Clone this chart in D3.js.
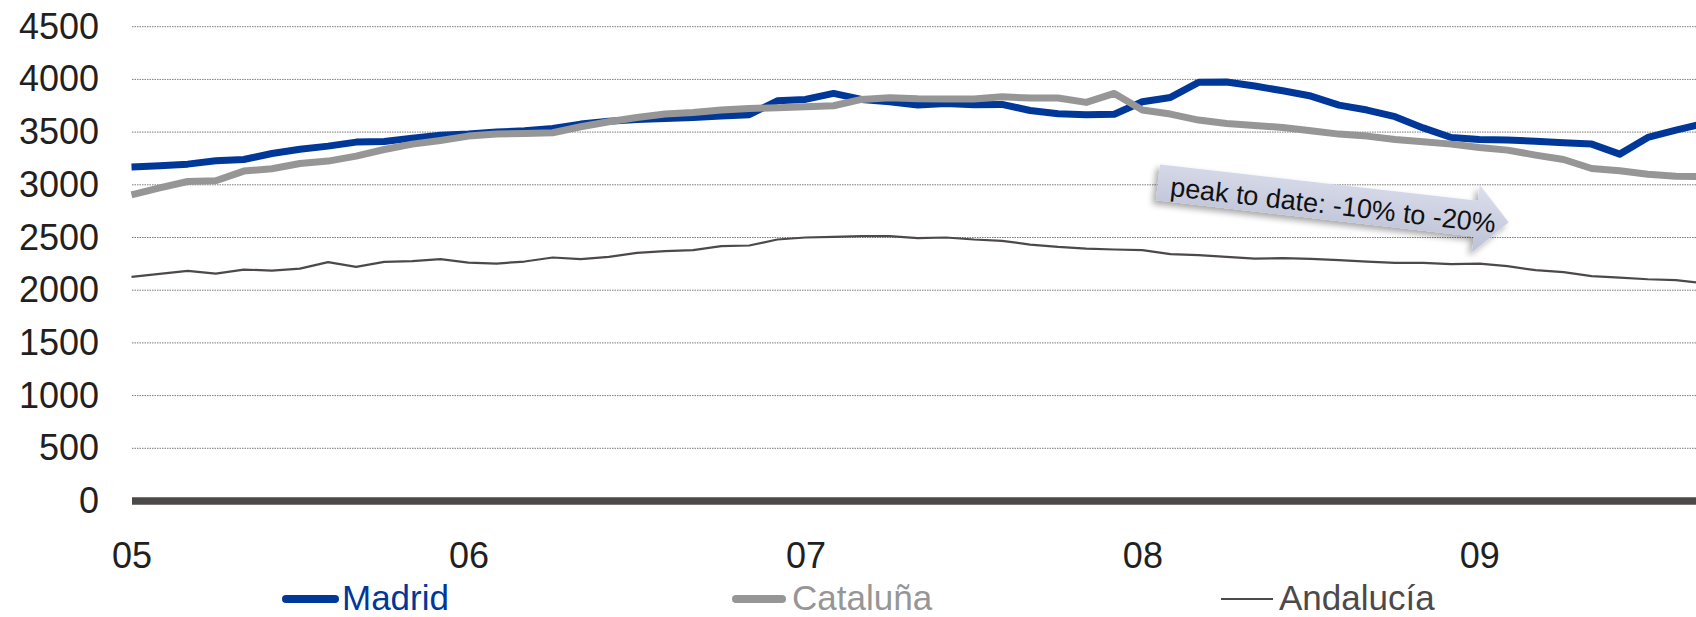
<!DOCTYPE html>
<html>
<head>
<meta charset="utf-8">
<script src="https://cdn.jsdelivr.net/npm/d3@7"></script>
<style>
  html, body { margin: 0; padding: 0; background: #fff; }
  svg { display: block; font-family: "Liberation Sans", Arial, sans-serif; }
</style>
</head>
<body>
<svg id="chart" width="1696" height="617"></svg>
<script>
// Monthly series, Jan 2005 onwards
const madrid = [3168, 3180, 3196, 3228, 3240, 3297, 3338, 3367, 3405, 3411, 3443, 3471,
  3481, 3500, 3513, 3535, 3576, 3604, 3620, 3630, 3639, 3652, 3665, 3797,
  3810, 3867, 3810, 3788, 3756, 3772, 3760, 3763, 3705, 3675, 3665, 3670,
  3788, 3829, 3972, 3975, 3937, 3892, 3842, 3756, 3709, 3646, 3540, 3449,
  3430, 3424, 3414, 3399, 3386, 3291, 3449, 3519, 3582];
const cataluna = [2905, 2971, 3031, 3038, 3130, 3152, 3202, 3225, 3272, 3335, 3386, 3421,
  3462, 3481, 3487, 3494, 3551, 3598, 3639, 3671, 3687, 3709, 3725, 3730,
  3740, 3750, 3810, 3826, 3816, 3813, 3813, 3835, 3823, 3823, 3782, 3867,
  3709, 3671, 3614, 3582, 3563, 3544, 3513, 3481, 3462, 3430, 3408, 3386,
  3354, 3329, 3282, 3240, 3155, 3133, 3101, 3082, 3076];
const andalucia = [2126, 2155, 2183, 2158, 2196, 2186, 2205, 2266, 2221, 2269, 2275, 2295,
  2262, 2253, 2272, 2310, 2294, 2316, 2354, 2370, 2380, 2418, 2424, 2481,
  2500, 2506, 2513, 2513, 2494, 2500, 2481, 2468, 2433, 2411, 2395, 2386,
  2380, 2342, 2332, 2316, 2300, 2304, 2297, 2285, 2272, 2259, 2259, 2247,
  2253, 2228, 2190, 2171, 2133, 2120, 2104, 2095, 2065];
const yearLabels = ["05", "06", "07", "08", "09"];
const yTicks = [0, 500, 1000, 1500, 2000, 2500, 3000, 3500, 4000, 4500];
const seriesNames = ["Madrid", "Cataluña", "Andalucía"];
const noteText = "peak to date: -10% to -20%";

const svg = d3.select("#chart");
const W = 1696;
const plotLeft = 132;
const monthW = 28.08;

const x = d3.scaleLinear().domain([0, 56]).range([131.5, 131.5 + 56 * monthW]);
const y = d3.scaleLinear().domain([0, 4500]).range([501, 26.7]);

// gridlines
svg.append("g")
  .selectAll("line")
  .data(yTicks.filter(v => v > 0))
  .join("line")
  .attr("x1", plotLeft).attr("x2", W)
  .attr("y1", d => y(d)).attr("y2", d => y(d))
  .attr("stroke", "#7a7a7a")
  .attr("stroke-width", 1)
  .attr("stroke-dasharray", "1.5,1");

// y axis labels
const yAxis = svg.append("g")
  .attr("transform", `translate(${plotLeft},0)`)
  .call(d3.axisLeft(y).tickValues(yTicks).tickSize(0).tickPadding(33).tickFormat(d3.format("d")));
yAxis.select(".domain").remove();
yAxis.selectAll("text")
  .attr("font-size", 36)
  .attr("font-family", "Liberation Sans, Arial, sans-serif")
  .attr("fill", "#231f20");

// x axis labels (one per year)
const xAxis = svg.append("g")
  .attr("transform", `translate(0,${y(0)})`)
  .call(d3.axisBottom(x).tickValues([0, 12, 24, 36, 48]).tickSize(0).tickPadding(41)
    .tickFormat((d, i) => yearLabels[i]));
xAxis.select(".domain").remove();
xAxis.selectAll("text")
  .attr("font-size", 36)
  .attr("font-family", "Liberation Sans, Arial, sans-serif")
  .attr("fill", "#231f20");

// series lines
const line = d3.line().x((d, i) => x(i)).y(d => y(d));
const styles = [
  { data: madrid, color: "#00389a", width: 7 },
  { data: cataluna, color: "#969696", width: 7 },
  { data: andalucia, color: "#4d4949", width: 2.2 }
];
svg.append("g")
  .selectAll("path")
  .data(styles)
  .join("path")
  .attr("d", d => line(d.data))
  .attr("fill", "none")
  .attr("stroke", d => d.color)
  .attr("stroke-width", d => d.width)
  .attr("stroke-linejoin", "round");

// zero baseline
svg.append("line")
  .attr("x1", plotLeft).attr("x2", W)
  .attr("y1", y(0)).attr("y2", y(0))
  .attr("stroke", "#4d4949")
  .attr("stroke-width", 7.5);

// annotation arrow
const defs = svg.append("defs");
const grad = defs.append("linearGradient").attr("id", "arrowFill")
  .attr("x1", 0).attr("y1", 0).attr("x2", 0).attr("y2", 1);
grad.append("stop").attr("offset", "0%").attr("stop-color", "#dcdfec");
grad.append("stop").attr("offset", "100%").attr("stop-color", "#bcc1d6");
const shadow = defs.append("filter").attr("id", "arrowShadow")
  .attr("x", "-20%").attr("y", "-40%").attr("width", "140%").attr("height", "180%");
shadow.append("feDropShadow")
  .attr("dx", -3).attr("dy", 4).attr("stdDeviation", 3)
  .attr("flood-color", "#000").attr("flood-opacity", 0.35);

const note = svg.append("g").attr("transform", "translate(1160,164.5) rotate(6.5)");
note.append("path")
  .attr("d", "M0,0 L320,0 L320,-16 L353,18 L320,52 L320,36 L0,36 Z")
  .attr("fill", "url(#arrowFill)")
  .attr("filter", "url(#arrowShadow)");
note.append("text")
  .attr("x", 13).attr("y", 30)
  .attr("font-size", 27)
  .attr("fill", "#111")
  .text(noteText);

// legend
const legendItems = [
  { name: seriesNames[0], color: "#00389a", width: 8, x1: 286, x2: 335, tx: 342, cap: "round" },
  { name: seriesNames[1], color: "#969696", width: 8, x1: 736, x2: 782, tx: 792, cap: "round" },
  { name: seriesNames[2], color: "#4d4949", width: 2, x1: 1221, x2: 1273, tx: 1279, cap: "butt" }
];
const legend = svg.append("g");
legendItems.forEach(it => {
  legend.append("line")
    .attr("x1", it.x1).attr("x2", it.x2)
    .attr("y1", 599).attr("y2", 599)
    .attr("stroke", it.color)
    .attr("stroke-width", it.width)
    .attr("stroke-linecap", it.cap);
  legend.append("text")
    .attr("x", it.tx).attr("y", 610)
    .attr("font-size", 35)
    .attr("fill", it.color)
    .text(it.name);
});
</script>
</body>
</html>
